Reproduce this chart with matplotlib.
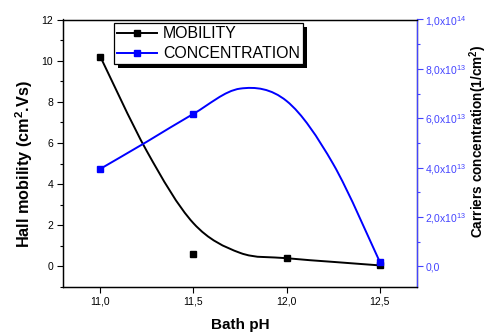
import matplotlib
matplotlib.use("Agg")
import matplotlib.pyplot as plt
from matplotlib.path import Path
from matplotlib.patches import PathPatch, Rectangle
from matplotlib.lines import Line2D
from matplotlib.transforms import IdentityTransform
from matplotlib.ticker import FixedLocator, MultipleLocator, FuncFormatter
import numpy as np

plt.rcParams['font.family'] = ['Liberation Sans', 'DejaVu Sans']
plt.rcParams['mathtext.default'] = 'regular'

# measured points
ph = [11.0, 11.5, 12.0, 12.5]
mobility = [10.2, 0.6, 0.4, 0.05]
conc_ph = [11.0, 11.5, 12.5]
concentration = [3.95e13, 6.18e13, 0.19e13]

# smoothed curves
curve_ph = [11.0, 11.25, 11.5, 11.75, 12.0, 12.25, 12.5]
mobility_curve = [10.2, 5.6, 2.1, 0.66, 0.4, 0.22, 0.05]
conc_curve = [3.95e13, 5.05e13, 6.18e13, 7.2e13, 6.7e13, 4.15e13, 0.19e13]

xticks = [11.0, 11.5, 12.0, 12.5]

BLUE = '#0000ff'
AXBLUE = '#4444ff'


def smooth_path(xs, ys):
    """Catmull-Rom curve through the points, as cubic Bezier segments."""
    p = np.column_stack([xs, ys]).astype(float)
    p = np.vstack([p[0], p, p[-1]])
    verts = [p[1]]
    codes = [Path.MOVETO]
    for i in range(1, len(p) - 2):
        c1 = p[i] + (p[i + 1] - p[i - 1]) / 6
        c2 = p[i + 1] - (p[i + 2] - p[i]) / 6
        verts += [c1, c2, p[i + 1]]
        codes += [Path.CURVE4] * 3
    return Path(verts, codes)


fig = plt.figure(figsize=(4.88, 3.32), dpi=100)
ax = fig.add_axes([63 / 488, 1 - 287 / 332, (417 - 63) / 488, (287 - 19.5) / 332])
ax2 = ax.twinx()

ax.add_patch(PathPatch(smooth_path(curve_ph, mobility_curve), fill=False,
                       edgecolor='black', lw=1.4))
ax.plot(ph, mobility, ls='none', marker='s', ms=4.4, color='black')

ax2.add_patch(PathPatch(smooth_path(curve_ph, conc_curve), fill=False,
                        edgecolor=BLUE, lw=1.4))
ax2.plot(conc_ph, concentration, ls='none', marker='s', ms=4.4, color=BLUE)

ax.set_xlim(10.8, 12.7)
ax.set_ylim(-1, 12)
ax2.set_ylim(-1e14 / 12, 1e14)

ax.xaxis.set_major_locator(FixedLocator(xticks))
ax.xaxis.set_major_formatter(FuncFormatter(lambda v, p: f"{v:.1f}".replace('.', ',')))
ax.yaxis.set_major_locator(MultipleLocator(2))
ax.yaxis.set_minor_locator(MultipleLocator(1))
ax2.yaxis.set_major_locator(MultipleLocator(2e13))
ax2.yaxis.set_minor_locator(MultipleLocator(1e13))


def sci_comma(v, pos):
    if abs(v) < 1:
        return "0,0"
    e = int(np.floor(np.log10(abs(v))))
    m = v / 10 ** e
    return f"{m:.1f}".replace('.', ',') + "x10$^{%d}$" % e


ax2.yaxis.set_major_formatter(FuncFormatter(sci_comma))

ax.tick_params(axis='both', which='major', direction='out', length=4, width=0.8,
               labelsize=7.5, pad=3)
ax.tick_params(axis='y', which='minor', direction='out', length=2.5, width=0.8)
ax2.tick_params(axis='y', which='major', direction='out', length=4, width=0.8,
                labelsize=7.5, colors=AXBLUE, pad=2)
ax2.tick_params(axis='y', which='minor', direction='out', length=2.5, width=0.8,
                colors=AXBLUE)
ax2.spines['right'].set_color(AXBLUE)
for s in list(ax.spines.values()) + list(ax2.spines.values()):
    s.set_linewidth(0.9)

ax.set_xlabel('Bath pH', fontsize=11, fontweight='bold', labelpad=8)
ax.set_ylabel('Hall mobility (cm$^2$.Vs)', fontsize=11.7, fontweight='bold')
ax.yaxis.set_label_coords(-0.079, 0.46)
ax2.set_ylabel('Carriers concentration(1/cm$^2$)', fontsize=9.8, fontweight='bold',
               rotation=90)
ax2.yaxis.set_label_coords(1.142, 0.546)

handles = [
    Line2D([], [], color='black', lw=1.4, marker='s', ms=4.4),
    Line2D([], [], color=BLUE, lw=1.4, marker='s', ms=4.4),
]
leg = ax2.legend(handles, ['MOBILITY', 'CONCENTRATION'], loc='upper left',
                 bbox_to_anchor=(114 / 488, 1 - 23.3 / 332),
                 bbox_transform=fig.transFigure, borderaxespad=0,
                 fontsize=11.4, fancybox=False, frameon=True, framealpha=1,
                 edgecolor='black', handlelength=2.5, handletextpad=0.4,
                 borderpad=0.2, labelspacing=0.3)
leg.get_frame().set_linewidth(0.9)

# solid black drop shadow behind the legend box
fig.canvas.draw()
bb = leg.get_window_extent()
ax2.add_patch(Rectangle((bb.x0 + 4, bb.y0 - 4), bb.width, bb.height,
                        transform=IdentityTransform(), facecolor='black',
                        edgecolor='none', zorder=4.9, clip_on=False))

fig.savefig('out.png', dpi=100)
